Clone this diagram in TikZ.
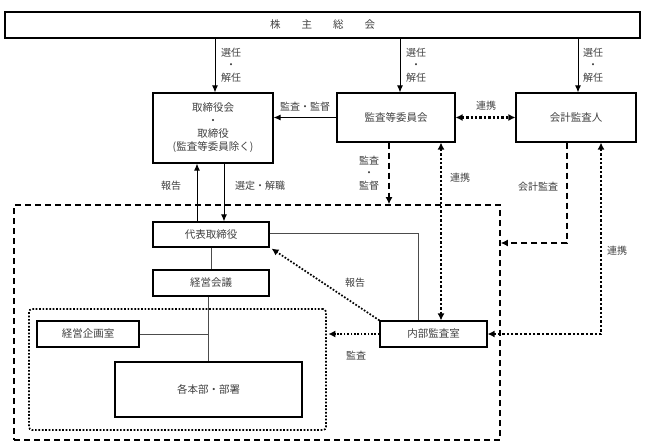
\documentclass[tikz,border=0pt]{standalone}
\usepackage{fontspec}
\setmainfont{Noto Sans CJK JP}
\usetikzlibrary{arrows.meta,calc}
\definecolor{txt}{HTML}{404040}
\tikzset{
  box/.style={draw=black,line width=1.1pt,rectangle,inner sep=0pt,text=txt,font=\fontsize{10.5}{13}\selectfont,align=center},
  lbl/.style={text=txt,font=\fontsize{10}{12.5}\selectfont,align=center,inner sep=1pt},
  arr/.style={line width=1pt,-{Latex[length=7pt,width=6pt]}},
  dsh/.style={line width=1.6pt,dash pattern=on 6pt off 4pt},
  dot/.style={line width=2.6pt,dash pattern=on 2.4pt off 2pt},
  fdot/.style={line width=1.7pt,dash pattern=on 1.7pt off 1.7pt},
  thin/.style={line width=0.5pt,draw=black!70},
  tip/.style={-{Latex[length=7pt,width=7pt]}},
  dtip/.style={{Latex[length=7pt,width=7pt]}-{Latex[length=7pt,width=7pt]}}
}
\begin{document}
\begin{tikzpicture}[x=1pt,y=-1pt]
\useasboundingbox (0,0) rectangle (646,447);
% nodes
\node[box,minimum width=635,minimum height=26] (sh) at (322.5,25) {株\hspace{2em}主\hspace{2em}総\hspace{2em}会};
\node[box,minimum width=120,minimum height=70] (tb) at (213,128) {取締役会\\・\\取締役\\(監査等委員除く)};
\node[box,minimum width=118,minimum height=49] (kan) at (396,117.5) {監査等委員会};
\node[box,minimum width=120,minimum height=49] (kai) at (576,117.5) {会計監査人};
\node[draw,dsh,minimum width=486,minimum height=235,inner sep=0pt] (outer) at (257,322.5) {};
\node[draw,fdot,rounded corners=3pt,minimum width=297,minimum height=121,inner sep=0pt] (inner) at (177.5,369.5) {};
\node[box,minimum width=116,minimum height=25] (dai) at (211,234.5) {代表取締役};
\node[box,minimum width=116,minimum height=26] (kei) at (211,283) {経営会議};
\node[box,minimum width=107,minimum height=26] (nai) at (433.5,334) {内部監査室};
\node[box,minimum width=102,minimum height=26] (kik) at (88,334) {経営企画室};
\node[box,minimum width=187,minimum height=55] (kak) at (208.5,389.5) {各本部・部署};
% helper coordinates
\coordinate (xa) at (215,0);
\coordinate (xb) at (400,0);
\coordinate (xc) at (578,0);
\coordinate (xr) at (197,0);
\coordinate (xs) at (224,0);
\coordinate (xd) at (389,0);
\coordinate (xe) at (441,0);
\coordinate (xf) at (567,0);
\coordinate (xg) at (601,0);
\coordinate (xh) at (418,0);
\coordinate (ya) at (0,243);
\coordinate (yb) at (0,233);
% election arrows
\draw[arr] (sh.south -| xa) -- (tb.north -| xa);
\draw[arr] (sh.south -| xb) -- (kan.north -| xb);
\draw[arr] (sh.south -| xc) -- (kai.north -| xc);
\node[lbl] (l1) at (231,65) {選任\\・\\解任};
\node[lbl] (l2) at (416,65) {選任\\・\\解任};
\node[lbl] (l3) at (593,65) {選任\\・\\解任};
% audit/supervise to board
\draw[arr] (kan.west) -- (tb.east |- kan.west);
\node[lbl] (l4) at (305,107) {監査・監督};
% coop kan-kai
\draw[dot,dtip] (kan.east) -- (kai.west);
\node[lbl] (l5) at (486,106) {連携};
% board - representative
\draw[arr] (dai.north -| xr) -- (tb.south -| xr);
\draw[arr] (tb.south -| xs) -- (dai.north -| xs);
\node[lbl] (l6) at (171,186) {報告};
\node[lbl] (l7) at (260,186) {選定・解職};
% kan dashed down
\draw[dsh,tip] (kan.south -| xd) -- (outer.north -| xd);
\node[lbl] (l8) at (369,173) {監査\\・\\監督};
% kan <-> nai
\draw[dot,dtip] (kan.south -| xe) -- (nai.north -| xe);
\node[lbl] (l9) at (460,178) {連携};
% accounting audit dashed
\draw[dsh,tip] (kai.south -| xf) -- (xf |- ya) -- (outer.east |- ya);
\node[lbl] (l10) at (538,187) {会計監査};
% kai <-> nai
\draw[dot,dtip] (kai.south -| xg) -- (xg |- nai.east) -- (nai.east);
\node[lbl] (l11) at (617,251) {連携};
% thin lines
\draw[thin] (dai.east |- yb) -- (xh |- yb) -- (nai.north -| xh);
\draw[thin] (dai.south) -- (kei.north);
\draw[thin] (kei.south -| kak.north) -- (kak.north);
\draw[thin] (kik.east) -- (kak.north |- kik.east);
% report dotted
\draw[fdot,tip] (nai.north west) -- ([xshift=2pt,yshift=-1pt]dai.south east);
\node[lbl] (l12) at (355,283) {報告};
\draw[fdot,tip] (nai.west) -- ([xshift=1.5pt]inner.east |- nai.west);
\node[lbl] (l13) at (356,356) {監査};
\end{tikzpicture}
\end{document}
